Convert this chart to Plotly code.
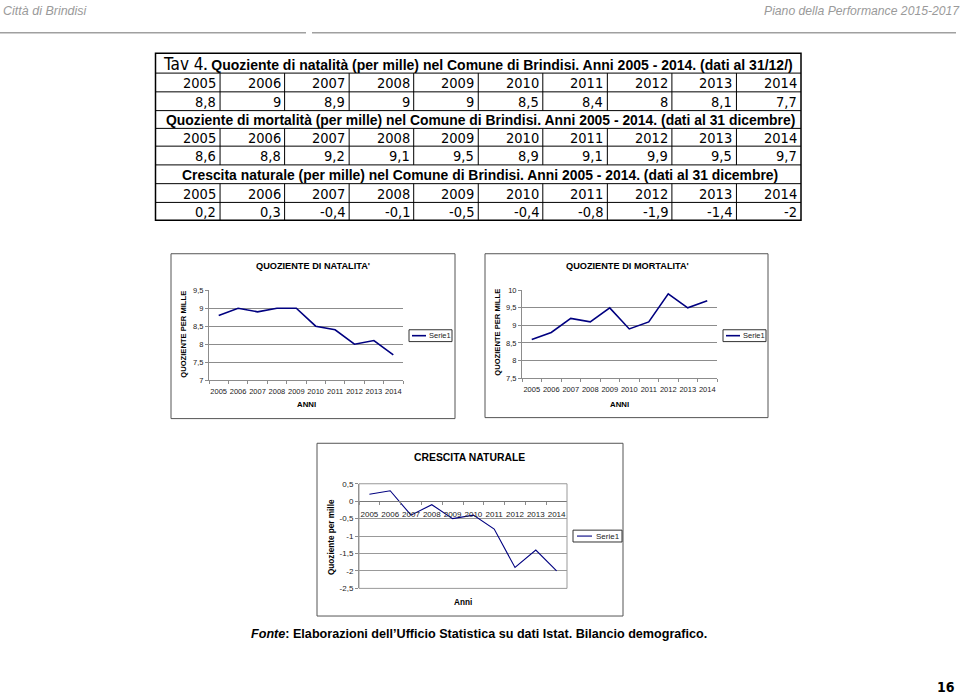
import plotly.graph_objects as go

# ---------------- data ----------------
years = ["2005", "2006", "2007", "2008", "2009", "2010", "2011", "2012", "2013", "2014"]
natalita = [8.8, 9, 8.9, 9, 9, 8.5, 8.4, 8, 8.1, 7.7]
mortalita = [8.6, 8.8, 9.2, 9.1, 9.5, 8.9, 9.1, 9.9, 9.5, 9.7]
crescita = [0.2, 0.3, -0.4, -0.1, -0.5, -0.4, -0.8, -1.9, -1.4, -2]

title_nat = "Quoziente di natalità (per mille) nel Comune di Brindisi. Anni 2005 - 2014. (dati al 31/12/)"
title_mor = "Quoziente di mortalità (per mille) nel Comune di Brindisi. Anni 2005 - 2014. (dati al 31 dicembre)"
title_cre = "Crescita naturale (per mille) nel Comune di Brindisi. Anni 2005 - 2014. (dati al 31 dicembre)"
series_name = "Serie1"

W, H = 960, 700
def px(x):
    return x / W
def py(y):
    return 1 - y / H
def fmt(v):
    return f"{v:g}".replace(".", ",")

NAVY = "#000080"
GRID = "#8c8c8c"
FONT = "Liberation Sans, Arial, sans-serif"
COND = "DejaVu Sans Condensed, DejaVu Sans, sans-serif"

fig = go.Figure()

# ---------------- charts ----------------
fig.add_trace(go.Scatter(x=years, y=natalita, mode="lines", name=series_name,
                         line=dict(color=NAVY, width=1.6), xaxis="x", yaxis="y", showlegend=False))
fig.add_trace(go.Scatter(x=years, y=mortalita, mode="lines", name=series_name,
                         line=dict(color=NAVY, width=1.6), xaxis="x2", yaxis="y2", showlegend=False))
fig.add_trace(go.Scatter(x=years, y=crescita, mode="lines", name=series_name,
                         line=dict(color=NAVY, width=1.1), xaxis="x3", yaxis="y3", showlegend=False))

# plot areas in px
c1 = dict(x0=209, x1=403, y0=290, y1=381, r=(7, 9.5))
c2 = dict(x0=522, x1=717, y0=290, y1=379, r=(7.5, 10))
c3 = dict(x0=359, x1=567, y0=486, y1=592, r=(-2.5, 0.5))

tickfont = dict(family=FONT, size=7.5, color="#222")
def xax(c, **kw):
    d = dict(domain=[px(c["x0"]), px(c["x1"])], type="category", range=[-0.5, 9.5],
             showline=True, linecolor=GRID, linewidth=1, showgrid=False,
             ticks="outside", ticklen=3, tickcolor=GRID, tickson="boundaries",
             tickangle=0, ticklabelstandoff=4, tickfont=tickfont, fixedrange=True)
    d.update(kw)
    return d
def yax(c, ax, **kw):
    lo, hi = c["r"]
    vals = [lo + 0.5 * i for i in range(int(round((hi - lo) / 0.5)) + 1)]
    d = dict(domain=[py(c["y1"]), py(c["y0"])], range=[lo, hi], anchor=ax,
             tickvals=vals, ticktext=[fmt(v) for v in vals],
             showline=True, linecolor=GRID, linewidth=1, showgrid=True, gridcolor=GRID, gridwidth=1,
             zeroline=False, ticks="outside", ticklen=3, tickcolor=GRID,
             tickfont=tickfont, fixedrange=True)
    d.update(kw)
    return d

zero_pos = py(c3["y1"]) + (0 - c3["r"][0]) / (c3["r"][1] - c3["r"][0]) * (py(c3["y0"]) - py(c3["y1"]))

fig.update_layout(
    width=W, height=H, margin=dict(l=0, r=0, t=0, b=0),
    paper_bgcolor="white", plot_bgcolor="white", showlegend=False,
    separators=",.",
    xaxis=xax(c1, anchor="y"),
    yaxis=yax(c1, "x"),
    xaxis2=xax(c2, anchor="y2"),
    yaxis2=yax(c2, "x2"),
    xaxis3=xax(c3, anchor="free", position=zero_pos, tickfont=dict(family=FONT, size=8, color="#222"),
               linecolor="#777", ticklabelstandoff=5),
    yaxis3=yax(c3, "x3", tickfont=dict(family=FONT, size=8, color="#222"), gridcolor="#999"),
)

shapes = []
ann = []

def line(x0, y0, x1, y1, color="#000", width=1):
    shapes.append(dict(type="line", xref="paper", yref="paper", x0=px(x0), y0=py(y0),
                       x1=px(x1), y1=py(y1), line=dict(color=color, width=width)))
def rect(x0, y0, x1, y1, color="#000", width=1):
    shapes.append(dict(type="rect", xref="paper", yref="paper", x0=px(x0), y0=py(y0),
                       x1=px(x1), y1=py(y1), line=dict(color=color, width=width)))
def text(x, y, t, size, xanchor="center", yanchor="middle", family=FONT, color="#000", angle=0):
    ann.append(dict(x=px(x), y=py(y), xref="paper", yref="paper", text=t, showarrow=False,
                    xanchor=xanchor, yanchor=yanchor, textangle=angle,
                    font=dict(family=family, size=size, color=color)))

# chart frames
rect(171, 253, 455, 420, "#555", 1)
rect(485, 253, 768, 419, "#555", 1)
rect(317, 445, 623, 620, "#555", 1)
# plot area border chart 3
shapes.append(dict(type="rect", xref="x3 domain", yref="y3 domain", x0=0, x1=1, y0=0, y1=1,
                   line=dict(color="#999", width=1)))

# chart titles
text(313, 265, "<b>QUOZIENTE DI NATALITA'</b>", 9.2)
text(627, 265, "<b>QUOZIENTE DI MORTALITA'</b>", 9.2)
text(469, 459, "<b>CRESCITA NATURALE</b>", 10.4)
# axis titles
text(184, 335, "<b>QUOZIENTE PER MILLE</b>", 7.6, angle=-90)
text(498, 333, "<b>QUOZIENTE PER MILLE</b>", 7.6, angle=-90)
text(331, 540, "<b>Quoziente per mille</b>", 8.2, angle=-90)
text((c1["x0"] + c1["x1"]) / 2, 406, "<b>ANNI</b>", 7.8)
text((c2["x0"] + c2["x1"]) / 2, 406, "<b>ANNI</b>", 7.8)
text((c3["x0"] + c3["x1"]) / 2, 606, "<b>Anni</b>", 8.2)

# legends
def legend(bx0, bx1, by0, by1, lx0, lx1, tx, lw, size):
    rect(bx0, by0, bx1, by1, "#333", 1)
    line(lx0, (by0 + by1) / 2, lx1, (by0 + by1) / 2, NAVY, lw)
    text(tx, (by0 + by1) / 2, series_name, size, xanchor="left", color="#222")
legend(409, 452, 330, 342, 412, 426, 427, 1.6, 7.5)
legend(723, 766, 330, 342, 726, 740, 741, 1.6, 7.5)
legend(573, 622, 533, 545, 577, 592, 594, 1.1, 8)

# ---------------- header ----------------
text(1, 7, "<i>Città di Brindisi</i>", 12.5, xanchor="left", color="#9a9a9a")
text(962, 7, "<i>Piano della Performance 2015-2017</i>", 12.2, xanchor="right", color="#9a9a9a")
line(0, 29, 306, 29, "#a0a0a0", 1.5)
line(312, 29, 956, 29, "#a0a0a0", 1.5)

# ---------------- table ----------------
TX0, TX1 = 155.5, 801
rows = [50, 70, 89, 108, 126, 144, 163, 182, 201, 219]
cw = (TX1 - TX0) / 10
rect(TX0, rows[0], TX1, rows[-1], "#000", 1.5)
for yb in rows[1:-1]:
    line(TX0, yb, TX1, yb, "#000", 1)
blocks = [(title_nat, natalita), (title_mor, mortalita), (title_cre, crescita)]
for b, (tt, vals) in enumerate(blocks):
    rt = rows[3 * b]
    ry = rows[3 * b + 1]
    rv = rows[3 * b + 2]
    rb = rows[3 * b + 3]
    for i in range(1, 10):
        line(TX0 + i * cw, ry, TX0 + i * cw, rb, "#000", 1)
    if b == 0:
        text(161, (rt + ry) / 2 + 0.5,
             "<span style='font-family:DejaVu Sans Condensed;font-size:17px'>Tav 4</span><b>. " + tt + "</b>",
             14.0, xanchor="left")
    else:
        text((TX0 + TX1) / 2 + 2, (rt + ry) / 2 + 0.5, "<b>" + tt + "</b>", 13.9)
    for i in range(10):
        xr = TX0 + (i + 1) * cw - 2
        text(xr, (ry + rv) / 2 + 0.5, years[i], 14.5, xanchor="right", family=COND)
        text(xr, (rv + rb) / 2 + 0.5, fmt(vals[i]), 14.5, xanchor="right", family=COND)

# ---------------- footer ----------------
text(249, 638, "<b><i>Fonte</i>: Elaborazioni dell’Ufficio Statistica su dati Istat. Bilancio demografico.</b>",
     12.6, xanchor="left")
text(957, 692, "<b>16</b>", 14, xanchor="right", family=COND)

fig.update_layout(shapes=shapes, annotations=ann)
fig.write_html("out.html")
